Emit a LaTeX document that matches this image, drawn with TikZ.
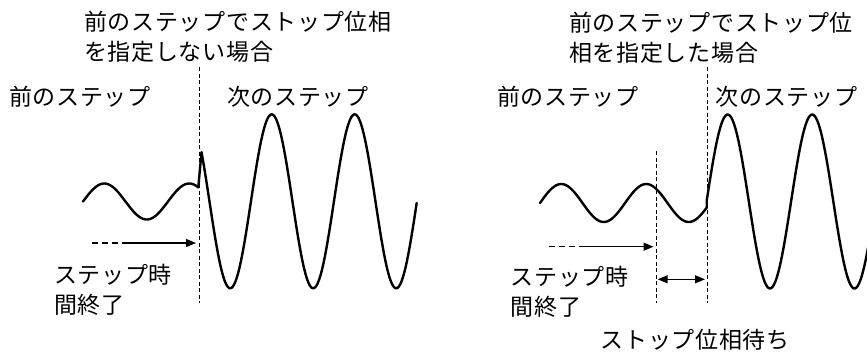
\documentclass[tikz,border=0pt]{standalone}
\usepackage{fontspec}
\newfontfamily\jpfont[LetterSpace=3]{Noto Sans CJK JP}
\usetikzlibrary{arrows.meta}
\tikzset{
	wave/.style={line width=2.4pt, line cap=round, line join=round},
	vline/.style={line width=0.9pt, dash pattern=on 4pt off 2.5pt},
	dashpart/.style={line width=1.1pt, dash pattern=on 6pt off 4pt},
	solidpart/.style={line width=1.2pt, ->},
	txt/.style={anchor=west, inner sep=0pt, align=left}
}
\begin{document}
\begin{tikzpicture}[x=1pt, y=-1pt, font=\jpfont\fontsize{23}{30}\selectfont, >={Triangle[length=10pt,width=8pt]}]
	\useasboundingbox (0,0) rectangle (867,354);
	\node[txt] (titleA) at (84,37) {前のステップでストップ位相\\を指定しない場合};
	\node[txt] (prevA) at (9,97) {前のステップ};
	\node[txt] (nextA) at (227,97) {次のステップ};
	\node[txt] (endA) at (54,290) {ステップ時\\間終了};
	\coordinate (cutAtop) at (199,67);
	\coordinate (cutAbot) at (199,303);
	\draw[vline] (cutAtop) -- (cutAbot);
	\coordinate (runAa) at (92,243);
	\coordinate (runAb) at (127,243);
	\coordinate (runAc) at (196,243);
	\draw[dashpart] (runAa) -- (runAb);
	\draw[solidpart] (runAb) -- (runAc);
	\draw[wave] plot[domain=83:198.3, samples=80] (\x, {201.5-18*sin(360/85*(\x-83))})
		-- plot[domain=201.5:416.7, samples=160] (\x, {201.3-87*cos(360/83*(\x-271.7))});
	\node[txt] (titleB) at (569,37.5) {前のステップでストップ位\\相を指定した場合};
	\node[txt] (prevB) at (497,97) {前のステップ};
	\node[txt] (nextB) at (715.5,97) {次のステップ};
	\node[txt] (endB) at (510.5,292) {ステップ時\\間終了};
	\node[txt] (waitB) at (600.5,340) {ストップ位相待ち};
	\coordinate (stopBtop) at (656.7,151);
	\coordinate (stopBbot) at (656.7,303);
	\coordinate (cutBtop) at (707.3,67);
	\coordinate (cutBbot) at (707.3,303);
	\draw[vline] (stopBtop) -- (stopBbot);
	\draw[vline] (cutBtop) -- (cutBbot);
	\coordinate (runBa) at (549.3,246.7);
	\coordinate (runBb) at (585,246.7);
	\coordinate (runBc) at (653.5,246.7);
	\draw[dashpart] (runBa) -- (runBb);
	\draw[solidpart] (runBb) -- (runBc);
	\coordinate (waitBa) at (657.7,279.3);
	\coordinate (waitBb) at (705,279.3);
	\draw[line width=1.2pt, <->] (waitBa) -- (waitBb);
	\draw[wave] plot[domain=540:706.7, samples=100] (\x, {203-19*sin(360/85*(\x-540))})
		-- plot[domain=706.7:870, samples=120] (\x, {201.5-87*cos(360/84.5*(\x-727.7))});
\end{tikzpicture}
\end{document}
